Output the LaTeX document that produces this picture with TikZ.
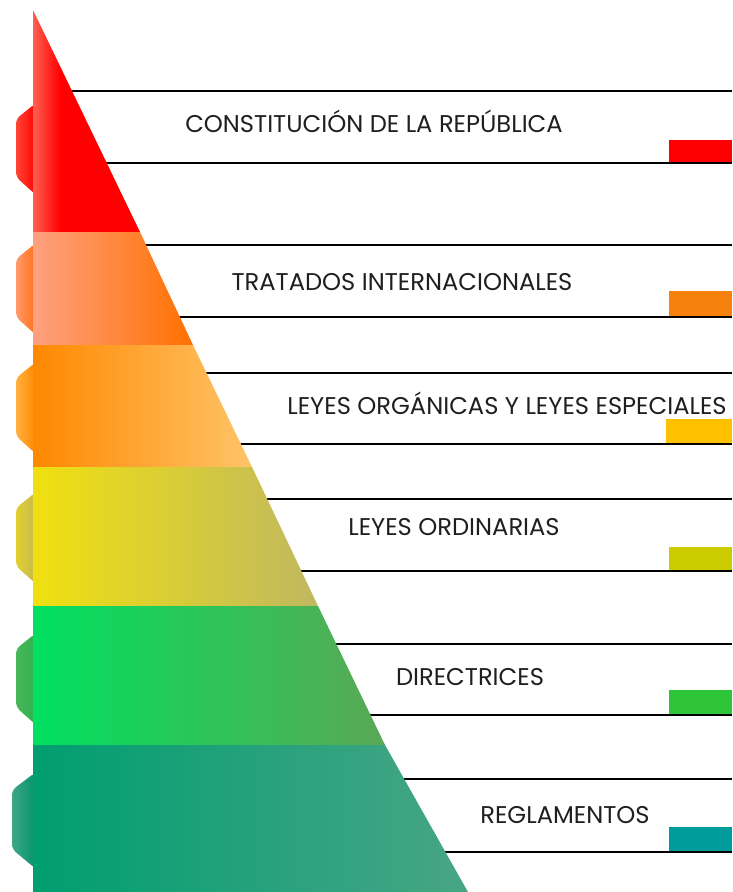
\documentclass[tikz,border=0pt]{standalone}
\usepackage{fontspec}
\setmainfont{Poppins}
\definecolor{cRed}{HTML}{FF0000}
\definecolor{cOrange}{HTML}{F6820D}
\definecolor{cGold}{HTML}{FFC000}
\definecolor{cOlive}{HTML}{CCCC00}
\definecolor{cGreen}{HTML}{2EC437}
\definecolor{cTeal}{HTML}{009B9B}
% tab colours
\definecolor{tA1}{HTML}{FF4535}\definecolor{tA2}{HTML}{FF0000}
\definecolor{tB1}{HTML}{FF9A70}\definecolor{tB2}{HTML}{FF7010}
\definecolor{tC1}{HTML}{FFB040}\definecolor{tC2}{HTML}{FF8A00}
\definecolor{tD1}{HTML}{E2D030}\definecolor{tD2}{HTML}{C8B850}
\definecolor{tE1}{HTML}{48B858}\definecolor{tE2}{HTML}{30B050}
\definecolor{tF1}{HTML}{40A585}\definecolor{tF2}{HTML}{00956C}
% band colours
\definecolor{bA1}{HTML}{FF6050}
\definecolor{bB1}{HTML}{FFA080}\definecolor{bB2}{HTML}{FF7000}
\definecolor{bC1}{HTML}{FF8800}\definecolor{bC2}{HTML}{FFC468}
\definecolor{bD1}{HTML}{F0E010}\definecolor{bD2}{HTML}{C0B860}
\definecolor{bE1}{HTML}{00E060}\definecolor{bE2}{HTML}{5AA855}
\definecolor{bF1}{HTML}{009E70}\definecolor{bF2}{HTML}{48A585}
\begin{document}
\begin{tikzpicture}[x=1pt,y=-1pt,
  rule/.style={line width=1.8pt,black},
  lbl/.style={font=\fontsize{24.2}{27}\selectfont, inner sep=0pt, anchor=base, text=black!88},
  tab/.style={rounded corners=5pt}]
\useasboundingbox[fill=white] (0,0) rectangle (732,892);
% colour markers
\fill[cRed]    (669,140) rectangle (732,163);
\fill[cOrange] (669,291) rectangle (732,317);
\fill[cGold]   (666,419) rectangle (732,444);
\fill[cOlive]  (669,547) rectangle (732,571);
\fill[cGreen]  (669,690) rectangle (732,715);
\fill[cTeal]   (669,827) rectangle (732,852);
% rules
\foreach \y in {91,163,245,317,373,444,499,571,644,715,779,852}
  \draw[rule] (33,\y) -- (732,\y);
% tabs
\shade[tab,left color=tA1,right color=tA2] (36,103) -- (16,119) -- (16,177) -- (36,195) -- cycle;
\shade[tab,left color=tB1,right color=tB2] (36,243) -- (16,259) -- (16,317) -- (36,335) -- cycle;
\shade[tab,left color=tC1,right color=tC2] (36,362) -- (16,378) -- (16,436) -- (36,454) -- cycle;
\shade[tab,left color=tD1,right color=tD2] (36,492) -- (16,508) -- (16,566) -- (36,584) -- cycle;
\shade[tab,left color=tE1,right color=tE2] (36,633) -- (16,649) -- (16,707) -- (36,725) -- cycle;
\shade[tab,left color=tF1,right color=tF2] (36,772) -- (12,790) -- (12,849) -- (36,869) -- cycle;
% pyramid bands
\begin{scope}
\clip (33,10) -- (140,232) -- (33,232) -- cycle;
\shade[left color=bA1,right color=red] (33,10) rectangle (60,232);
\fill[red] (60,10) rectangle (141,232);
\end{scope}
\shade[left color=bB1,right color=bB2] (33,232) -- (140,232) -- (193,345) -- (33,345) -- cycle;
\shade[left color=bC1,right color=bC2] (33,345) -- (193,345) -- (252,467) -- (33,467) -- cycle;
\shade[left color=bD1,right color=bD2] (33,467) -- (252,467) -- (318,606) -- (33,606) -- cycle;
\shade[left color=bE1,right color=bE2] (33,606) -- (318,606) -- (385,745) -- (33,745) -- cycle;
\shade[left color=bF1,right color=bF2] (33,745) -- (385,745) -- (468,892) -- (33,892) -- cycle;
% labels
\node[lbl] (t1) at (374,132) {CONSTITUCIÓN DE LA REPÚBLICA};
\node[lbl] (t2) at (402,290) {TRATADOS INTERNACIONALES};
\node[lbl] (t3) at (507,414) {LEYES ORGÁNICAS Y LEYES ESPECIALES};
\node[lbl] (t4) at (454,535) {LEYES ORDINARIAS};
\node[lbl] (t5) at (470,685) {DIRECTRICES};
\node[lbl] (t6) at (565,823) {REGLAMENTOS};
\end{tikzpicture}
\end{document}
